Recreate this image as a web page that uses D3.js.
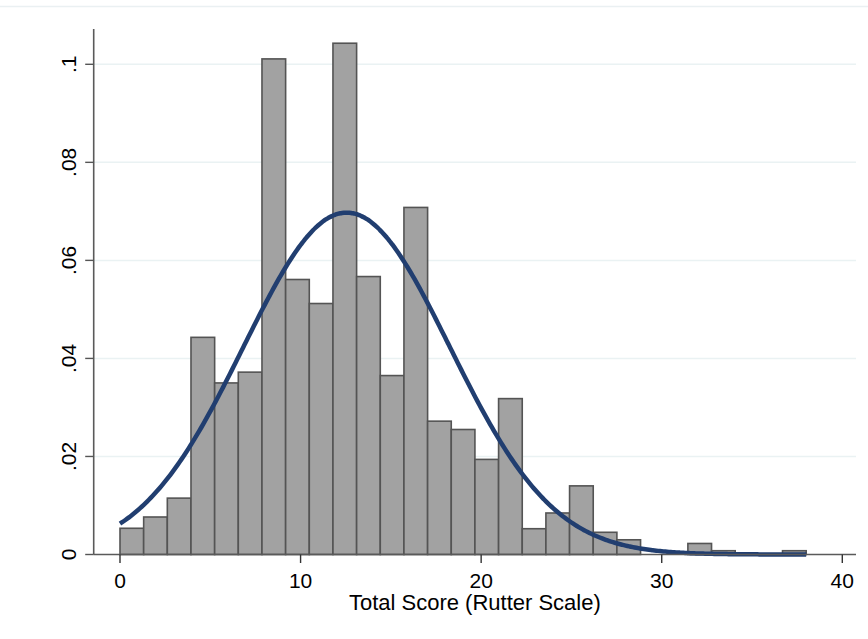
<!DOCTYPE html>
<html>
<head>
<meta charset="utf-8">
<script src="https://cdn.jsdelivr.net/npm/d3@7"></script>
<style>
  body { margin: 0; background: #fff; }
  svg { display: block; font-family: "Liberation Sans", Arial, sans-serif; }
</style>
</head>
<body>
<div id="chart"></div>
<script>
// Histogram of total score, density scale (29 bins over 0..38)
const binStart = 0;
const binEnd = 38;
const densities = [
  0.00535, 0.00765, 0.0115, 0.0443, 0.0350, 0.0372, 0.1011, 0.0561,
  0.0512, 0.1043, 0.0567, 0.0365, 0.0708, 0.0272, 0.0255, 0.0194,
  0.0318, 0.00526, 0.00847, 0.0140, 0.00453, 0.0030, 0, 0,
  0.00225, 0.00077, 0, 0, 0.00077
];
// normal density overlay
const normalMean = 12.55;
const normalSd = 5.72;

const xTicks = [0, 10, 20, 30, 40];
const yTicks = [0, 0.02, 0.04, 0.06, 0.08, 0.1];
const yTickLabels = ['0', '.02', '.04', '.06', '.08', '.1'];
const xTitle = 'Total Score (Rutter Scale)';

function renderHistogram(containerId) {
    const container = d3.select(`#${containerId}`);
    container.selectAll('*').remove();

    const W = 868, H = 639;
    const plot = { left: 93.7, right: 856, top: 29, bottom: 554.5 };

    const svg = container.append('svg')
        .attr('width', W)
        .attr('height', H);

    svg.append('rect').attr('width', W).attr('height', H).attr('fill', '#fff');
    // faint outer frame line
    svg.append('line')
        .attr('x1', 0).attr('x2', W).attr('y1', 6.5).attr('y2', 6.5)
        .attr('stroke', '#eaf0f2').attr('stroke-width', 1.5);

    const x = d3.scaleLinear().domain([0, 40]).range([120, 842.3]);
    const y = d3.scaleLinear().domain([0, 0.1]).range([plot.bottom, 64.3]);

    // gridlines
    svg.selectAll('.grid')
        .data(yTicks.filter(d => d > 0))
        .enter()
        .append('line')
        .attr('class', 'grid')
        .attr('x1', plot.left).attr('x2', plot.right)
        .attr('y1', d => y(d)).attr('y2', d => y(d))
        .attr('stroke', '#eaf2f3')
        .attr('stroke-width', 1.5);

    const binWidth = (binEnd - binStart) / densities.length;
    const bins = densities.map((d, i) => ({
        x0: binStart + i * binWidth,
        x1: binStart + (i + 1) * binWidth,
        density: d
    })).filter(b => b.density > 0);

    svg.selectAll('.bar')
        .data(bins)
        .enter()
        .append('rect')
        .attr('class', 'bar')
        .attr('x', d => x(d.x0))
        .attr('y', d => y(d.density))
        .attr('width', d => x(d.x1) - x(d.x0))
        .attr('height', d => y(0) - y(d.density))
        .attr('fill', '#a2a2a2')
        .attr('stroke', '#545454')
        .attr('stroke-width', 1.6);

    // normal curve
    const pts = d3.range(binStart, binEnd + 0.001, 0.1).map(v => ({
        v,
        d: Math.exp(-0.5 * Math.pow((v - normalMean) / normalSd, 2)) / (normalSd * Math.sqrt(2 * Math.PI))
    }));
    const line = d3.line()
        .x(d => x(d.v))
        .y(d => y(d.d))
        .curve(d3.curveBasis);
    svg.append('path')
        .datum(pts)
        .attr('d', line)
        .attr('fill', 'none')
        .attr('stroke', '#213e70')
        .attr('stroke-width', 4.5);

    // axes lines
    svg.append('line')
        .attr('x1', plot.left).attr('x2', plot.left)
        .attr('y1', plot.top).attr('y2', plot.bottom)
        .attr('stroke', '#5a5a5a').attr('stroke-width', 1.6);
    svg.append('line')
        .attr('x1', plot.left).attr('x2', plot.right)
        .attr('y1', plot.bottom).attr('y2', plot.bottom)
        .attr('stroke', '#5a5a5a').attr('stroke-width', 1.6);

    // x ticks
    svg.selectAll('.xtick')
        .data(xTicks)
        .enter()
        .append('line')
        .attr('x1', d => x(d)).attr('x2', d => x(d))
        .attr('y1', plot.bottom).attr('y2', plot.bottom + 8.5)
        .attr('stroke', '#333').attr('stroke-width', 1.4);
    svg.selectAll('.xlabel')
        .data(xTicks)
        .enter()
        .append('text')
        .attr('x', d => x(d))
        .attr('y', 588)
        .attr('text-anchor', 'middle')
        .style('font-size', '21px')
        .text(d => d);

    // y ticks
    svg.selectAll('.ytick')
        .data(yTicks)
        .enter()
        .append('line')
        .attr('x1', plot.left - 8.5).attr('x2', plot.left)
        .attr('y1', d => y(d)).attr('y2', d => y(d))
        .attr('stroke', '#555').attr('stroke-width', 1.4);
    svg.selectAll('.ylabel')
        .data(yTicks)
        .enter()
        .append('text')
        .attr('transform', d => `translate(76,${y(d)}) rotate(-90)`)
        .attr('text-anchor', 'middle')
        .style('font-size', '21px')
        .text((d, i) => yTickLabels[i]);

    svg.append('text')
        .attr('x', (plot.left + plot.right) / 2)
        .attr('y', 610)
        .attr('text-anchor', 'middle')
        .style('font-size', '22px')
        .text(xTitle);
}

renderHistogram('chart');
</script>
</body>
</html>
